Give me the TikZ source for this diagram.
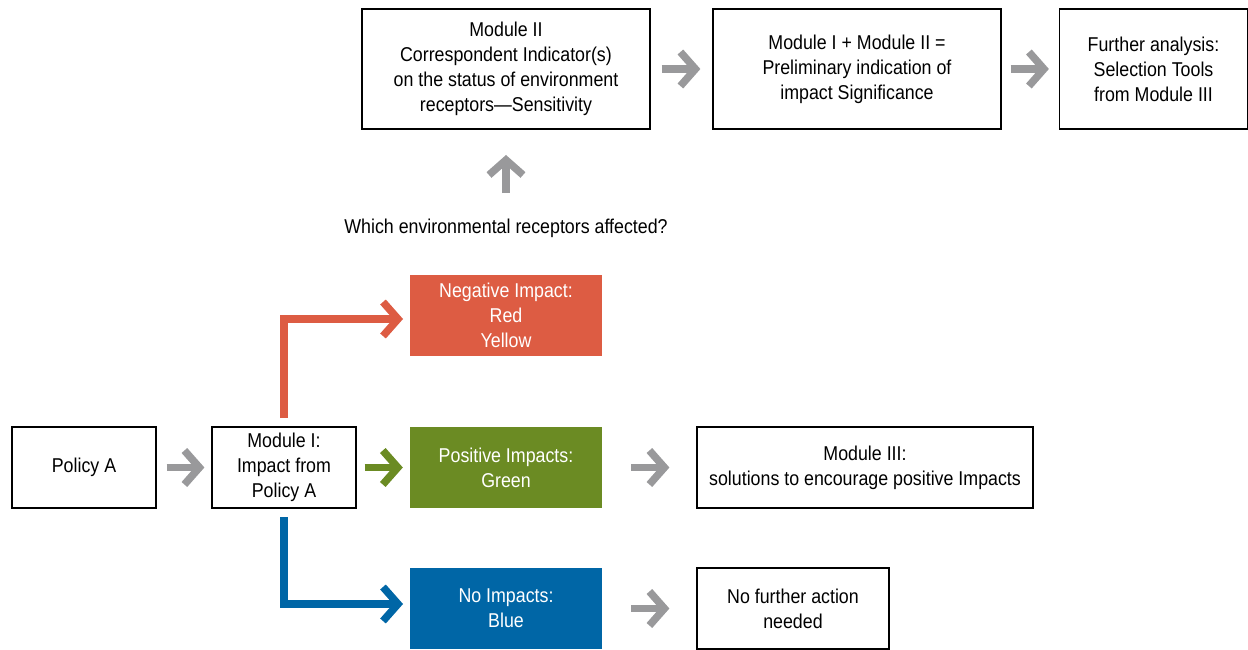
\documentclass[tikz,border=0pt]{standalone}
\usepackage{fontspec}
\setmainfont{Liberation Sans}[FakeStretch=0.89]
\usetikzlibrary{arrows.meta}
\definecolor{cred}{RGB}{221,92,67}
\definecolor{cgreen}{RGB}{107,139,35}
\definecolor{cblue}{RGB}{0,102,166}
\definecolor{cgray}{RGB}{153,153,155}
\begin{document}
\begin{tikzpicture}[x=1pt,y=-1pt,
  every node/.style={font=\fontsize{20}{25}\selectfont, align=center, inner sep=0pt},
  box/.style={draw=black, line width=1.2pt, fill=white},
  cbox/.style={draw=none, text=white},
  garrow/.style={draw=cgray, line width=7.5pt, -{Straight Barb[length=15pt,width=34pt,line width=7.5pt]}},
  carrow/.style={line width=7.5pt, -{Straight Barb[length=15pt,width=34pt,line width=7.5pt]}}
]
\useasboundingbox (0,0) rectangle (1248,650);
% top row
\node[box, minimum width=288, minimum height=120] (m2) at (506,69) {Module II\\Correspondent Indicator(s)\\on the status of environment\\receptors---Sensitivity};
\node[box, minimum width=288, minimum height=120] (m12) at (857,69) {Module I + Module II =\\Preliminary indication of\\impact Significance};
\node[box, minimum width=188, minimum height=120] (fa) at (1153.5,69) {Further analysis:\\Selection Tools\\from Module III};
\node (q) at (506,228) {Which environmental receptors affected?};
% left
\node[box, minimum width=144, minimum height=81] (pa) at (84,467.5) {Policy A};
\node[box, minimum width=144, minimum height=81] (m1) at (284,467.5) {Module I:\\Impact from\\Policy A};
% colored
\node[cbox, fill=cred, minimum width=192, minimum height=81] (neg) at (506,315.5) {Negative Impact:\\Red\\Yellow};
\node[cbox, fill=cgreen, minimum width=192, minimum height=81] (pos) at (506,467.5) {Positive Impacts:\\Green};
\node[cbox, fill=cblue, minimum width=192, minimum height=81] (noi) at (506,608.5) {No Impacts:\\Blue};
% right
\node[box, minimum width=336, minimum height=81] (m3) at (865,467.5) {Module III:\\solutions to encourage positive Impacts};
\node[box, minimum width=192, minimum height=81] (nf) at (793,608.5) {No further action\\needed};
% connectors
\coordinate (upbase) at (506,193);
\coordinate (uptip) at (506,155);
\coordinate (redtop) at (284,319);
\coordinate (redend) at (403,319);
\coordinate (redstart) at (284,418);
\coordinate (bluebot) at (284,604);
\coordinate (blueend) at (403,604);
\coordinate (bluestart) at (284,517);
\draw[garrow] ([xshift=11pt]m2.east) -- ([xshift=-12pt]m12.west);
\draw[garrow] ([xshift=9pt]m12.east) -- ([xshift=-10pt]fa.west);
\draw[garrow] (upbase) -- (uptip);
\draw[garrow] ([xshift=10pt]pa.east) -- ([xshift=-7pt]m1.west);
\draw[carrow, draw=cgreen] ([xshift=8pt]m1.east) -- ([xshift=-7pt]pos.west);
\draw[garrow] ([xshift=29pt]pos.east) -- ([xshift=-27pt]m3.west);
\draw[garrow] ([xshift=29pt]noi.east) -- ([xshift=-27pt]nf.west);
\draw[carrow, draw=cred] (redstart) -- (redtop) -- (redend);
\draw[carrow, draw=cblue] (bluestart) -- (bluebot) -- (blueend);
\end{tikzpicture}
\end{document}
